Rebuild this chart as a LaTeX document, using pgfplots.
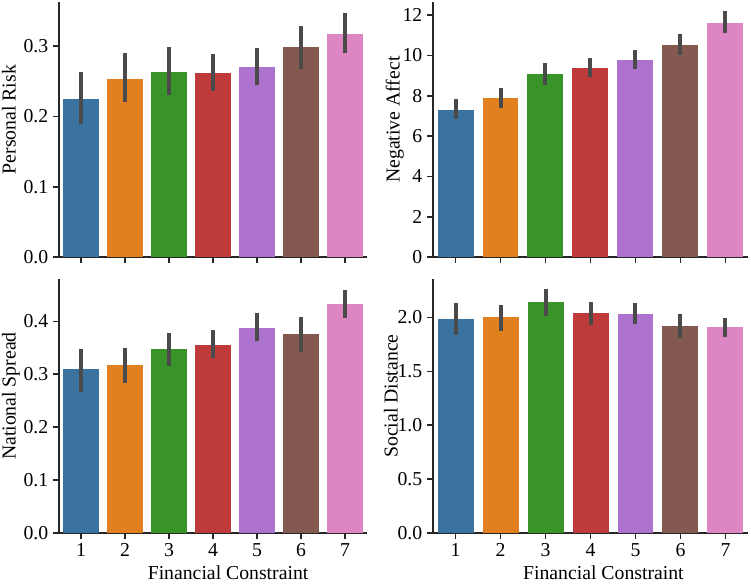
\documentclass[border=0pt]{standalone}
\usepackage{fontspec}
\setmainfont{Liberation Serif}
\usepackage{pgfplots}
\pgfplotsset{compat=1.18}

\definecolor{c1}{HTML}{3A72A0}
\definecolor{c2}{HTML}{E0801F}
\definecolor{c3}{HTML}{389428}
\definecolor{c4}{HTML}{BF3B3B}
\definecolor{c5}{HTML}{AC72CE}
\definecolor{c6}{HTML}{845A50}
\definecolor{c7}{HTML}{DE86C4}
\definecolor{errc}{HTML}{4A4A4A}
\definecolor{spine}{HTML}{262626}

% one bar: index, mean, +err, -err
\newcommand{\cbar}[4]{%
  \addplot[fill=c#1, draw=none, bar shift=0pt,
    error bars/.cd, y dir=both, y explicit, error mark=none,
    error bar style={line width=3pt, color=errc}]
    coordinates {(#1,#2) += (0,#3) -= (0,#4)};}

\pgfplotsset{
  panel/.style={
    scale only axis, anchor=south west,
    ybar, bar width=0.8,
    xmin=0.5, xmax=7.5, ymin=0,
    axis x line*=bottom, axis y line*=left,
    axis line style={line width=1.25pt, color=spine, -},
    tick style={line width=1.25pt, color=spine},
    tick align=outside, major tick length=4.5pt,
    xtick={1,...,7},
    tick label style={font=\fontsize{14.8}{17}\selectfont, color=black},
    label style={font=\fontsize{14.8}{17}\selectfont},
    /pgf/number format/assume math mode=true,
  },
  dec/.style={yticklabel style={/pgf/number format/.cd, fixed, fixed zerofill, precision=1}},
  ylab/.style={ylabel style={at={(axis description cs:#1,0.539)}, anchor=mid}},
  xlab/.style={xlabel style={at={(ticklabel cs:#1)}}},
}

\begin{document}
\begin{tikzpicture}
\useasboundingbox (0,0) rectangle (563.25pt,-438.75pt);

% top left
\begin{axis}[panel, dec, at={(44.25pt,-192.75pt)}, width=231pt, height=191.25pt,
  ymax=0.363, ytick={0,0.1,0.2,0.3}, xticklabels={},
  ylabel={Personal Risk}, ylab=-0.151]
\cbar{1}{0.225}{0.038}{0.035}
\cbar{2}{0.253}{0.037}{0.032}
\cbar{3}{0.264}{0.035}{0.033}
\cbar{4}{0.262}{0.027}{0.026}
\cbar{5}{0.271}{0.026}{0.026}
\cbar{6}{0.299}{0.030}{0.031}
\cbar{7}{0.318}{0.030}{0.027}
\end{axis}

% top right
\begin{axis}[panel, at={(324.75pt,-192.75pt)}, width=236.25pt, height=191.25pt,
  ymax=12.65, ytick={0,2,4,6,8,10,12}, xticklabels={},
  ylabel={Negative Affect}, ylab=-0.1156]
\cbar{1}{7.31}{0.51}{0.48}
\cbar{2}{7.87}{0.50}{0.49}
\cbar{3}{9.07}{0.54}{0.55}
\cbar{4}{9.40}{0.45}{0.47}
\cbar{5}{9.78}{0.50}{0.46}
\cbar{6}{10.54}{0.52}{0.51}
\cbar{7}{11.62}{0.56}{0.53}
\end{axis}

% bottom left
\begin{axis}[panel, dec, at={(44.25pt,-399.75pt)}, width=231pt, height=190.5pt,
  ymax=0.48, ytick={0,0.1,0.2,0.3,0.4},
  xlabel={Financial Constraint}, xlab=0.549,
  ylabel={National Spread}, ylab=-0.151]
\cbar{1}{0.309}{0.038}{0.043}
\cbar{2}{0.318}{0.032}{0.034}
\cbar{3}{0.347}{0.031}{0.032}
\cbar{4}{0.356}{0.028}{0.026}
\cbar{5}{0.388}{0.028}{0.026}
\cbar{6}{0.376}{0.032}{0.033}
\cbar{7}{0.433}{0.027}{0.027}
\end{axis}

% bottom right
\begin{axis}[panel, dec, at={(324.75pt,-399.75pt)}, width=236.25pt, height=190.5pt,
  ymax=2.357, ytick={0,0.5,1,1.5,2},
  xlabel={Financial Constraint}, xlab=0.541,
  ylabel={Social Distance}, ylab=-0.122]
\cbar{1}{1.988}{0.148}{0.148}
\cbar{2}{2.000}{0.120}{0.123}
\cbar{3}{2.139}{0.123}{0.124}
\cbar{4}{2.037}{0.102}{0.108}
\cbar{5}{2.034}{0.099}{0.099}
\cbar{6}{1.920}{0.111}{0.108}
\cbar{7}{1.911}{0.086}{0.093}
\end{axis}
\end{tikzpicture}
\end{document}
